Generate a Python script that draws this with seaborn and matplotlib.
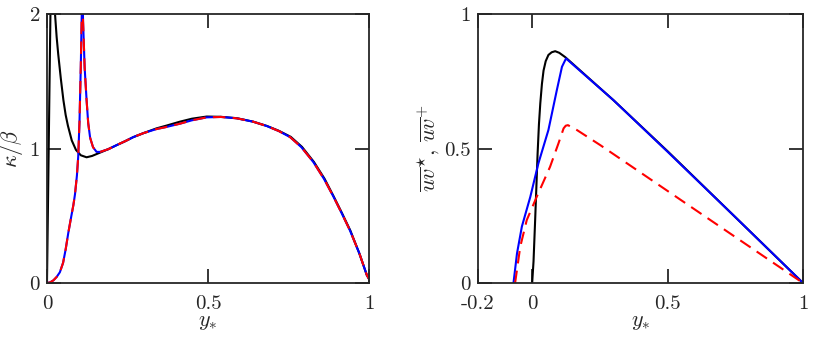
import matplotlib
matplotlib.use("Agg")
import matplotlib.pyplot as plt
import seaborn as sns

# ---------------------------------------------------------------------------
# Left panel: kappa/beta vs y*
# ---------------------------------------------------------------------------
# black curve (peaks above the axis limit near the wall)
kb_black_x = [0.0, 0.004, 0.008, 0.011, 0.016, 0.021, 0.025, 0.03, 0.035, 0.043,
              0.051, 0.058, 0.065, 0.077, 0.09, 0.105, 0.123, 0.14, 0.165, 0.19,
              0.216, 0.243, 0.268, 0.3, 0.34, 0.37, 0.413, 0.45, 0.496, 0.54,
              0.589, 0.64, 0.683, 0.72, 0.757, 0.792, 0.829, 0.862, 0.89, 0.916,
              0.942, 0.97, 0.993, 1.0]
kb_black_y = [0.0, 0.75, 1.5, 2.05, 2.5, 2.2, 2.0, 1.83, 1.7, 1.52,
              1.36, 1.25, 1.17, 1.06, 0.99, 0.95, 0.935, 0.945, 0.97, 0.995,
              1.025, 1.055, 1.085, 1.115, 1.15, 1.17, 1.2, 1.222, 1.238, 1.236,
              1.226, 1.2, 1.168, 1.132, 1.087, 1.012, 0.9, 0.775, 0.645, 0.52,
              0.39, 0.22, 0.06, 0.03]

# blue / red curves: rising branch up to the singularity ...
kb_rise_x = [0.0, 0.01, 0.02, 0.03, 0.04, 0.05, 0.058, 0.066, 0.075, 0.082,
             0.087, 0.093, 0.097, 0.101, 0.105, 0.108, 0.11]
kb_rise_y = [0.0, 0.005, 0.02, 0.045, 0.08, 0.15, 0.25, 0.37, 0.49, 0.58,
             0.66, 0.8, 0.94, 1.2, 1.61, 2.0, 2.4]
# ... and the branch falling from it
kb_fall_x = [0.109, 0.112, 0.117, 0.123, 0.128, 0.134, 0.143, 0.154, 0.165, 0.19,
             0.216, 0.243, 0.268, 0.3, 0.34, 0.37, 0.413, 0.45, 0.496, 0.54,
             0.589, 0.64, 0.683, 0.72, 0.755, 0.79, 0.827, 0.86, 0.889, 0.915,
             0.941, 0.97, 0.993, 1.0]
kb_fall_y = [2.4, 1.95, 1.6, 1.36, 1.19, 1.08, 1.01, 0.975, 0.975, 0.995,
             1.025, 1.055, 1.085, 1.115, 1.145, 1.16, 1.185, 1.21, 1.232, 1.235,
             1.225, 1.2, 1.167, 1.13, 1.085, 1.01, 0.9, 0.775, 0.645, 0.52,
             0.39, 0.22, 0.06, 0.03]

# ---------------------------------------------------------------------------
# Right panel: Reynolds shear stress vs y*
# ---------------------------------------------------------------------------
uv_black_x = [0.0, 0.005, 0.011, 0.016, 0.02, 0.025, 0.03, 0.036, 0.042, 0.05,
              0.06, 0.072, 0.085, 0.1, 0.122, 0.3, 0.5, 1.0]
uv_black_y = [0.0, 0.08, 0.234, 0.37, 0.48, 0.59, 0.668, 0.74, 0.79, 0.825,
              0.848, 0.858, 0.862, 0.856, 0.84, 0.68, 0.49, 0.0]

uv_blue_x = [-0.069, -0.056, -0.038, -0.007, 0.023, 0.06, 0.091, 0.11, 0.125,
             0.3, 0.5, 0.75, 1.0]
uv_blue_y = [0.0, 0.11, 0.21, 0.32, 0.445, 0.569, 0.717, 0.804, 0.835,
             0.68, 0.488, 0.245, 0.0]

uv_red_x = [-0.063, -0.044, -0.02, 0.017, 0.066, 0.097, 0.116, 0.124, 0.132,
            0.165, 0.251, 0.62, 1.0]
uv_red_y = [0.0, 0.135, 0.234, 0.321, 0.432, 0.519, 0.575, 0.585, 0.587,
            0.569, 0.513, 0.26, 0.0]

# ---------------------------------------------------------------------------
# Style
# ---------------------------------------------------------------------------
sns.set_theme(style="ticks")
plt.rcParams.update({
    "font.family": ["cmr10", "DejaVu Serif"],
    "mathtext.fontset": "cm",
    "axes.formatter.use_mathtext": True,
    "font.size": 15,
    "axes.labelsize": 16,
    "axes.edgecolor": "#262626",
    "axes.linewidth": 1.3,
    "xtick.direction": "in",
    "ytick.direction": "in",
    "xtick.top": True,
    "ytick.right": True,
    "xtick.major.size": 10,
    "ytick.major.size": 10,
    "xtick.major.width": 1.3,
    "ytick.major.width": 1.3,
    "xtick.color": "#262626",
    "ytick.color": "#262626",
    "xtick.labelsize": 15,
    "ytick.labelsize": 15,
    "xtick.major.pad": 9,
    "ytick.major.pad": 5,
})

LW = 1.5
DASH = (6, 3.5)

fig = plt.figure(figsize=(8.3, 3.37), dpi=100)
ax1 = fig.add_axes([0.0566, 0.1602, 0.388, 0.798])
ax2 = fig.add_axes([0.5759, 0.1602, 0.3916, 0.798])

# left panel
sns.lineplot(x=kb_black_x, y=kb_black_y, ax=ax1, color="black", lw=LW,
             sort=False, estimator=None)
for xs, ys in [(kb_rise_x, kb_rise_y), (kb_fall_x, kb_fall_y)]:
    sns.lineplot(x=xs, y=ys, ax=ax1, color="#0000ff", lw=LW,
                 sort=False, estimator=None)
    sns.lineplot(x=xs, y=ys, ax=ax1, color="#ff0000", lw=LW,
                 sort=False, estimator=None).lines[-1].set_dashes(DASH)

ax1.set_xlim(0, 1)
ax1.set_ylim(0, 2)
ax1.set_xticks([0, 0.5, 1], ["0", "0.5", "1"])
ax1.set_yticks([0, 1, 2], ["0", "1", "2"])
ax1.set_xlabel(r"$y_{*}$", labelpad=-1)
ax1.set_ylabel(r"$\kappa/\beta$", labelpad=3)

# right panel
sns.lineplot(x=uv_black_x, y=uv_black_y, ax=ax2, color="black", lw=LW,
             sort=False, estimator=None)
sns.lineplot(x=uv_blue_x, y=uv_blue_y, ax=ax2, color="#0000ff", lw=LW,
             sort=False, estimator=None)
sns.lineplot(x=uv_red_x, y=uv_red_y, ax=ax2, color="#ff0000", lw=LW,
             sort=False, estimator=None).lines[-1].set_dashes(DASH)

ax2.set_xlim(-0.2, 1)
ax2.set_ylim(0, 1)
ax2.set_xticks([-0.2, 0, 0.5, 1], ["-0.2", "0", "0.5", "1"])
ax2.set_yticks([0, 0.5, 1], ["0", "0.5", "1"])
ax2.set_xlabel(r"$y_{*}$", labelpad=-1)
ax2.set_ylabel(r"$\overline{uv}^{\star},\,\overline{uv}^{+}$", labelpad=2)

for ax in (ax1, ax2):
    for sp in ax.spines.values():
        sp.set_visible(True)
        sp.set_zorder(5)

fig.savefig("out.png", dpi=100)
